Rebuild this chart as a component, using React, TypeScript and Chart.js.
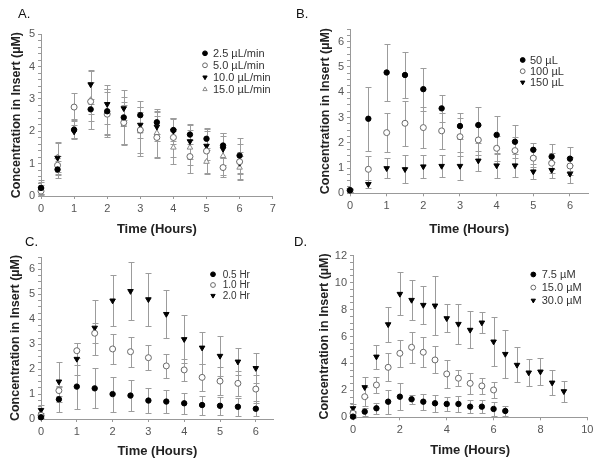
import React, { useEffect, useRef } from 'react';
import { Chart, registerables } from 'chart.js';
Chart.register(...registerables);

// ---------------- DATA ----------------
const timesA = [0, 0.5, 1, 1.5, 2, 2.5, 3, 3.5, 4, 4.5, 5, 5.5, 6];
const a25 = [0.25, 0.82, 2.05, 2.68, 2.62, 2.43, 2.5, 2.28, 2.04, 1.9, 1.77, 1.56, 1.25];
const a25Err = [0.25, 0.25, 0.3, 0.15, 0.7, 0.85, 0.45, 0.35, 0.35, 0.3, 0.3, 0.4, 0.55];
const a50 = [0.15, 0.95, 2.75, 2.92, 2.53, 2.27, 2.04, 1.81, 1.81, 1.22, 1.39, 0.88, 1.06];
const a50Err = [0.1, 0.3, 0.43, 0.6, 0.7, 0.65, 0.7, 0.65, 0.6, 0.5, 0.7, 0.3, 0.55];
const a100 = [0.22, 1.18, 1.99, 3.45, 2.84, 2.71, 2.2, 2.14, 2.01, 1.69, 1.55, 1.45, 1.02];
const a100Err = [0.2, 0.5, 0.2, 0.45, 0.6, 0.35, 0.4, 0.45, 0.4, 0.55, 0.45, 0.5, 0.35];
const a150 = [0.2, 1.2, 2.09, 2.97, 2.6, 2.2, 2.0, 1.95, 1.5, 1.5, 1.06, 1.24, 0.88];
const a150Err = [0.15, 0.45, 0.3, 0.9, 0.7, 0.6, 0.75, 0.75, 0.5, 0.55, 0.35, 0.6, 0.35];
const xTicksA = [0, 1, 2, 3, 4, 5, 6, 7];
const yTicksA = [0, 1, 2, 3, 4, 5];

const timesB = [0, 0.5, 1, 1.5, 2, 2.5, 3, 3.5, 4, 4.5, 5, 5.5, 6];
const b50 = [0.12, 2.95, 4.78, 4.68, 4.12, 3.36, 2.66, 2.7, 2.31, 2.04, 1.72, 1.45, 1.37];
const b50Err = [0.05, 1.27, 1.14, 0.9, 0.85, 0.53, 0.5, 0.7, 0.75, 0.65, 0.26, 0.5, 0.48];
const b100 = [0.12, 0.95, 2.4, 2.77, 2.6, 2.47, 2.24, 2.11, 1.78, 1.69, 1.39, 1.19, 1.08];
const b100Err = [0.05, 0.52, 0.78, 0.89, 0.82, 0.72, 0.75, 0.6, 0.5, 0.55, 0.35, 0.4, 0.35];
const b150 = [0.12, 0.36, 0.99, 0.95, 1.06, 1.08, 1.08, 1.29, 1.1, 1.1, 0.86, 0.92, 0.77];
const b150Err = [0.05, 0.15, 0.4, 0.55, 0.45, 0.45, 0.55, 0.4, 0.5, 0.45, 0.3, 0.3, 0.35];
const xTicksB = [0, 1, 2, 3, 4, 5, 6];
const yTicksB = [0, 1, 2, 3, 4, 5, 6];

const timesC = [0, 0.5, 1, 1.5, 2, 2.5, 3, 3.5, 4, 4.5, 5, 5.5, 6];
const c05 = [0.07, 0.79, 1.3, 1.23, 1.0, 0.94, 0.74, 0.7, 0.63, 0.56, 0.53, 0.49, 0.41];
const c05Err = [0.05, 0.5, 0.88, 0.8, 0.7, 0.63, 0.5, 0.45, 0.42, 0.38, 0.35, 0.35, 0.3];
const c10 = [0.15, 1.14, 2.74, 3.44, 2.81, 2.7, 2.46, 2.13, 1.97, 1.67, 1.52, 1.43, 1.2];
const c10Err = [0.1, 0.2, 0.3, 0.4, 0.62, 0.6, 0.5, 0.47, 0.45, 0.55, 0.55, 0.5, 0.55];
const c20 = [0.36, 1.5, 2.41, 3.66, 4.75, 5.13, 4.8, 4.21, 3.2, 2.86, 2.53, 2.3, 2.04];
const c20Err = [0.2, 0.8, 0.65, 1.1, 1.02, 1.17, 1.07, 0.98, 0.97, 0.65, 0.8, 0.55, 0.6];
const xTicksC = [0, 1, 2, 3, 4, 5, 6];
const yTicksC = [0, 1, 2, 3, 4, 5, 6];

const timesD75 = [0, 0.5, 1, 1.5, 2, 2.5, 3, 3.5, 4, 4.5, 5, 5.5, 6, 6.5];
const d75 = [0.05, 0.42, 0.67, 1.16, 1.53, 1.34, 1.16, 1.04, 0.99, 0.99, 0.79, 0.79, 0.62, 0.47];
const d75Err = [0.1, 0.3, 0.4, 0.9, 1.0, 0.35, 0.6, 0.65, 0.55, 0.6, 0.5, 0.5, 0.5, 0.35];
const timesD15 = [0, 0.5, 1, 1.5, 2, 2.5, 3, 3.5, 4, 4.5, 5, 5.5, 6];
const d15 = [0.3, 1.53, 2.4, 3.71, 4.75, 5.2, 4.83, 4.26, 3.22, 2.9, 2.52, 2.33, 2.03];
const d15Err = [0.2, 0.7, 0.62, 1.05, 1.0, 1.17, 1.1, 1.0, 1.05, 0.6, 0.8, 0.6, 0.62];
const timesD30 = [0, 0.5, 1, 1.5, 2, 2.5, 3, 3.5, 4, 4.5, 5, 5.5, 6, 6.5, 7, 7.5, 8, 8.5, 9];
const d30 = [0.67, 2.23, 4.5, 6.9, 9.16, 8.71, 8.34, 8.29, 7.35, 6.93, 6.49, 7.03, 5.62, 4.7, 3.89, 3.32, 3.39, 2.57, 1.93];
const d30Err = [0.3, 0.74, 0.9, 1.3, 1.6, 1.52, 1.42, 2.2, 1.05, 1.47, 1.38, 0.78, 1.8, 1.8, 1.3, 1.02, 1.0, 0.92, 0.8];
const xTicksD = [0, 2, 4, 6, 8, 10];
const yTicksD = [0, 2, 4, 6, 8, 10, 12];

const xTitle = 'Time (Hours)';
const yTitle = 'Concentration in Insert (µM)';

// ---------------- STYLES ----------------
const FONT = "'Liberation Sans', Arial, sans-serif";
type Marker = 'dot' | 'ring' | 'tridown' | 'triup';
const markerStyle: Record<Marker, any> = {
  dot: { pointStyle: 'circle', pointRotation: 0, pointBackgroundColor: '#000', pointBorderColor: '#000', pointRadius: 2.7, pointBorderWidth: 1 },
  ring: { pointStyle: 'circle', pointRotation: 0, pointBackgroundColor: '#fff', pointBorderColor: '#6a6a6a', pointRadius: 3.0, pointBorderWidth: 1 },
  tridown: { pointStyle: 'triangle', pointRotation: 180, pointBackgroundColor: '#000', pointBorderColor: '#000', pointRadius: 3.2, pointBorderWidth: 1 },
  triup: { pointStyle: 'triangle', pointRotation: 0, pointBackgroundColor: '#fff', pointBorderColor: '#8a8a8a', pointRadius: 3.2, pointBorderWidth: 1 },
};

function drawMarker(ctx: CanvasRenderingContext2D, m: Marker, cx: number, cy: number, r: number) {
  const s = markerStyle[m];
  ctx.save();
  ctx.beginPath();
  if (m === 'dot' || m === 'ring') {
    ctx.arc(cx, cy, r, 0, Math.PI * 2);
  } else {
    const dir = m === 'tridown' ? 1 : -1;
    ctx.moveTo(cx, cy + dir * r);
    ctx.lineTo(cx - r * 0.9, cy - dir * r * 0.55);
    ctx.lineTo(cx + r * 0.9, cy - dir * r * 0.55);
    ctx.closePath();
  }
  ctx.fillStyle = s.pointBackgroundColor;
  ctx.fill();
  ctx.lineWidth = 1;
  ctx.strokeStyle = s.pointBorderColor;
  ctx.stroke();
  ctx.restore();
}

const errorBarPlugin = {
  id: 'errorBars',
  beforeDatasetsDraw(chart: any) {
    const { ctx } = chart;
    const xs = chart.scales.x;
    const ys = chart.scales.y;
    ctx.save();
    ctx.strokeStyle = '#9c9c9c';
    ctx.lineWidth = 1;
    chart.data.datasets.forEach((ds: any) => {
      const errs: number[] = ds.errors;
      if (!errs) return;
      ds.data.forEach((p: any, i: number) => {
        const e = errs[i];
        const px = Math.round(xs.getPixelForValue(p.x)) + 0.5;
        const yt = Math.round(ys.getPixelForValue(p.y + e)) + 0.5;
        const yb = Math.round(ys.getPixelForValue(p.y - e)) + 0.5;
        ctx.beginPath();
        ctx.moveTo(px, yt);
        ctx.lineTo(px, yb);
        ctx.moveTo(px - 3, yt);
        ctx.lineTo(px + 3, yt);
        ctx.moveTo(px - 3, yb);
        ctx.lineTo(px + 3, yb);
        ctx.stroke();
      });
    });
    ctx.restore();
  },
};

const legendPlugin = {
  id: 'insideLegend',
  afterDraw(chart: any, _args: any, opts: any) {
    const { ctx } = chart;
    ctx.save();
    ctx.font = `${opts.size}px ${FONT}`;
    ctx.textBaseline = 'middle';
    ctx.textAlign = 'left';
    chart.data.datasets.forEach((ds: any, i: number) => {
      const y = opts.y + i * opts.gap;
      drawMarker(ctx, ds.marker, opts.mx, y, 2.4);
      ctx.fillStyle = '#333';
      ctx.fillText(ds.label, opts.tx, y + 0.5);
    });
    ctx.restore();
  },
};

type Series = { label: string; marker: Marker; x: number[]; y: number[]; err: number[] };
type PanelCfg = {
  letter: string;
  left: number; top: number; w: number; h: number;
  area: { l: number; t: number; r: number; b: number };
  xMin: number; xMax: number; yMin: number; yMax: number;
  xTicks: number[]; yTicks: number[]; yMinor: number;
  yTitlePad: number; xTitlePad: number;
  legend: { mx: number; tx: number; y: number; gap: number; size: number };
  series: Series[];
};

const panels: PanelCfg[] = [
  {
    letter: 'A.', left: 0, top: 0, w: 300, h: 240,
    area: { l: 41, t: 34.3, r: 272.7, b: 196 },
    xMin: 0, xMax: 7, yMin: 0, yMax: 5, xTicks: xTicksA, yTicks: yTicksA, yMinor: 0.2,
    yTitlePad: 8.8, xTitlePad: 2.5,
    legend: { mx: 205, tx: 213, y: 53.3, gap: 12, size: 11 },
    series: [
      { label: '2.5 µL/min', marker: 'dot', x: timesA, y: a25, err: a25Err },
      { label: '5.0 µL/min', marker: 'ring', x: timesA, y: a50, err: a50Err },
      { label: '10.0 µL/min', marker: 'tridown', x: timesA, y: a100, err: a100Err },
      { label: '15.0 µL/min', marker: 'triup', x: timesA, y: a150, err: a150Err },
    ],
  },
  {
    letter: 'B.', left: 300, top: 0, w: 300, h: 240,
    area: { l: 50, t: 29, r: 288.3, b: 193.3 },
    xMin: 0, xMax: 6.5, yMin: 0, yMax: 6.5, xTicks: xTicksB, yTicks: yTicksB, yMinor: 0.25,
    yTitlePad: 17.8, xTitlePad: 2.5,
    legend: { mx: 222.7, tx: 230, y: 60, gap: 11.2, size: 11 },
    series: [
      { label: '50 µL', marker: 'dot', x: timesB, y: b50, err: b50Err },
      { label: '100 µL', marker: 'ring', x: timesB, y: b100, err: b100Err },
      { label: '150 µL', marker: 'tridown', x: timesB, y: b150, err: b150Err },
    ],
  },
  {
    letter: 'C.', left: 0, top: 232, w: 300, h: 233,
    area: { l: 41, t: 25, r: 273.7, b: 187 },
    xMin: 0, xMax: 6.5, yMin: 0, yMax: 6.5, xTicks: xTicksC, yTicks: yTicksC, yMinor: 0.25,
    yTitlePad: 8.5, xTitlePad: 5.5,
    legend: { mx: 213, tx: 222.7, y: 42.3, gap: 10.7, size: 10 },
    series: [
      { label: '0.5 Hr', marker: 'dot', x: timesC, y: c05, err: c05Err },
      { label: '1.0 Hr', marker: 'ring', x: timesC, y: c10, err: c10Err },
      { label: '2.0 Hr', marker: 'tridown', x: timesC, y: c20, err: c20Err },
    ],
  },
  {
    letter: 'D.', left: 300, top: 232, w: 300, h: 233,
    area: { l: 53, t: 23.7, r: 287.3, b: 185.3 },
    xMin: 0, xMax: 10, yMin: 0, yMax: 12, xTicks: xTicksD, yTicks: yTicksD, yMinor: 0.5,
    yTitlePad: 16.8, xTitlePad: 7.2,
    legend: { mx: 233.3, tx: 241.7, y: 42.5, gap: 13, size: 11 },
    series: [
      { label: '7.5 µM', marker: 'dot', x: timesD75, y: d75, err: d75Err },
      { label: '15.0 µM', marker: 'ring', x: timesD15, y: d15, err: d15Err },
      { label: '30.0 µM', marker: 'tridown', x: timesD30, y: d30, err: d30Err },
    ],
  },
];

function Panel({ cfg }: { cfg: PanelCfg }) {
  const ref = useRef<HTMLCanvasElement>(null);
  useEffect(() => {
    if (!ref.current) return;
    const { area, w, h } = cfg;
    const yAll: number[] = [];
    for (let v = cfg.yMin; v <= cfg.yMax + 1e-9; v += cfg.yMinor) yAll.push(Math.round(v * 1000) / 1000);
    const tickFont = { family: FONT, size: 11 };
    const chart = new Chart(ref.current, {
      type: 'scatter',
      data: {
        datasets: cfg.series.map((s) => ({
          label: s.label,
          marker: s.marker,
          errors: s.err,
          data: s.x.map((t, i) => ({ x: t, y: s.y[i] })),
          showLine: false,
          clip: false,
          ...markerStyle[s.marker],
        })) as any,
      },
      options: {
        responsive: false,
        animation: false,
        events: [],
        layout: { padding: { left: 0, top: area.t, right: w - area.r, bottom: 0 } },
        plugins: {
          legend: { display: false },
          tooltip: { enabled: false },
          insideLegend: cfg.legend,
        } as any,
        scales: {
          x: {
            type: 'linear',
            min: cfg.xMin,
            max: cfg.xMax,
            afterBuildTicks: (s: any) => { s.ticks = cfg.xTicks.map((v) => ({ value: v })); },
            afterFit: (s: any) => { s.height = h - area.b; },
            ticks: { autoSkip: false, maxRotation: 0, font: tickFont, color: '#555', padding: 3, callback: (v: any) => String(v) },
            grid: { drawOnChartArea: false, tickLength: 3, color: '#999' },
            border: { color: '#999' },
            title: { display: true, text: xTitle, color: '#222', font: { family: FONT, size: 13, weight: 'bold' }, padding: { top: 0, bottom: cfg.xTitlePad } },
          },
          y: {
            type: 'linear',
            min: cfg.yMin,
            max: cfg.yMax,
            afterBuildTicks: (s: any) => { s.ticks = yAll.map((v) => ({ value: v })); },
            afterFit: (s: any) => { s.width = area.l; },
            ticks: {
              autoSkip: false, font: tickFont, color: '#555', padding: 3,
              callback: (v: any) => (cfg.yTicks.includes(Math.round(v * 1000) / 1000) ? String(v) : ''),
            },
            grid: { drawOnChartArea: false, tickLength: 3, color: '#999' },
            border: { color: '#999' },
            title: { display: true, text: yTitle, color: '#222', font: { family: FONT, size: 12.5, weight: 'bold' }, padding: { top: cfg.yTitlePad, bottom: 0 } },
          },
        },
      } as any,
      plugins: [errorBarPlugin, legendPlugin],
    });
    return () => chart.destroy();
  }, [cfg]);
  return (
    <div style={{ position: 'absolute', left: cfg.left, top: cfg.top, width: cfg.w, height: cfg.h }}>
      <canvas ref={ref} width={cfg.w} height={cfg.h} style={{ width: cfg.w, height: cfg.h, display: 'block' }} />
    </div>
  );
}

const letterPos: Record<string, { x: number; y: number }> = {
  'A.': { x: 18, y: 6.6 },
  'B.': { x: 296, y: 6.6 },
  'C.': { x: 25, y: 235.3 },
  'D.': { x: 294, y: 235.3 },
};

export default function App() {
  return (
    <div style={{ position: 'fixed', left: 0, top: 0, width: 600, height: 465, background: '#fff', overflow: 'hidden' }}>
      {panels.map((p) => (
        <Panel key={p.letter} cfg={p} />
      ))}
      {panels.map((p) => (
        <div
          key={'l' + p.letter}
          style={{ position: 'absolute', left: letterPos[p.letter].x, top: letterPos[p.letter].y, fontFamily: FONT, fontSize: 13, lineHeight: '13px', color: '#111' }}
        >
          {p.letter}
        </div>
      ))}
    </div>
  );
}
